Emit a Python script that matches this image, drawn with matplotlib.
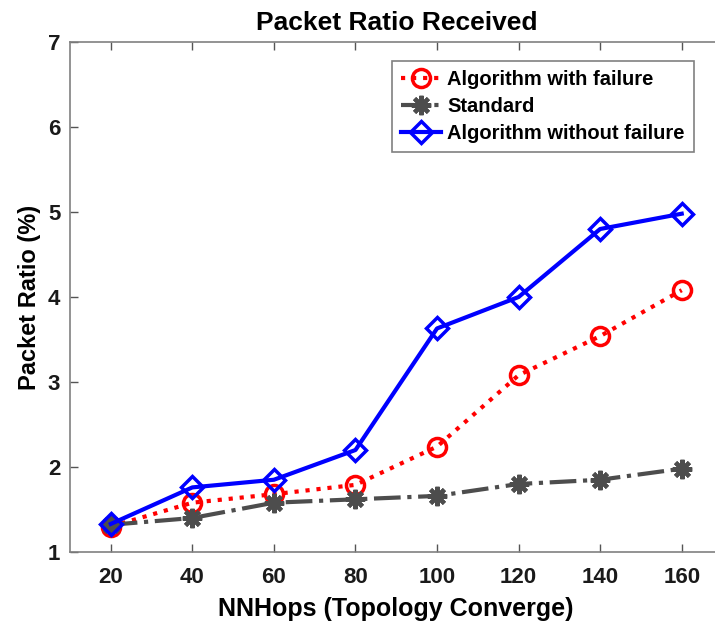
import matplotlib.pyplot as plt

# data
hops = [20, 40, 60, 80, 100, 120, 140, 160]
with_failure = [1.30, 1.58, 1.68, 1.79, 2.24, 3.08, 3.54, 4.08]
standard = [1.32, 1.40, 1.58, 1.62, 1.66, 1.80, 1.85, 1.98]
without_failure = [1.33, 1.76, 1.85, 2.20, 3.63, 4.00, 4.80, 4.98]

plt.rcParams['font.family'] = ['Liberation Sans', 'DejaVu Sans']
plt.rcParams['font.weight'] = 'bold'

fig = plt.figure(figsize=(7.15, 6.31), dpi=100)
# right edge of the axes falls outside the picture, as in the reference
ax = fig.add_axes([70 / 715, 79 / 631, 652.5 / 715, 510 / 631])

ax.plot(hops, with_failure, color="red", linestyle=":", linewidth=3,
        marker="o", markersize=13, markerfacecolor="none", markeredgewidth=2.5,
        label="Algorithm with failure")
ax.plot(hops, standard, color="#4d4d4d", linestyle="-.", linewidth=3,
        marker=(8, 2, 0), markersize=14, markeredgewidth=3,
        label="Standard")
ax.plot(hops, without_failure, color="blue", linestyle="-", linewidth=3,
        marker="D", markersize=11, markerfacecolor="none", markeredgewidth=2.5,
        label="Algorithm without failure")

ax.set_xlim(10, 170)
ax.set_ylim(1, 7)
ax.set_xticks(hops)
ax.set_yticks([1, 2, 3, 4, 5, 6, 7])

for s in ax.spines.values():
    s.set_color("#808080")
    s.set_linewidth(1.2)
ax.tick_params(direction="in", length=6, width=1, color="#555555",
               top=True, right=True, labelsize=16)
ax.tick_params(axis="x", pad=11)
ax.tick_params(axis="y", pad=7)
for lab in ax.get_xticklabels() + ax.get_yticklabels():
    lab.set_fontweight("bold")
    lab.set_color("#1a1a1a")

ax.set_title("Packet Ratio Received", fontsize=19, fontweight="bold", pad=9)
ax.set_xlabel("NNHops (Topology Converge)", fontsize=18, fontweight="bold", labelpad=6)
ax.set_ylabel("Packet Ratio (%)", fontsize=17, fontweight="bold", labelpad=5)

leg = ax.legend(loc="upper left", bbox_to_anchor=(322 / 652.5, 1 - 19 / 510),
                borderaxespad=0, prop={"size": 14.5, "weight": "bold"},
                handlelength=2.0, handletextpad=0.3, borderpad=0.45,
                labelspacing=0.4, fancybox=False, framealpha=1)
leg.get_frame().set_edgecolor("#808080")
leg.get_frame().set_linewidth(1.2)

fig.savefig("out.png", dpi=100)
